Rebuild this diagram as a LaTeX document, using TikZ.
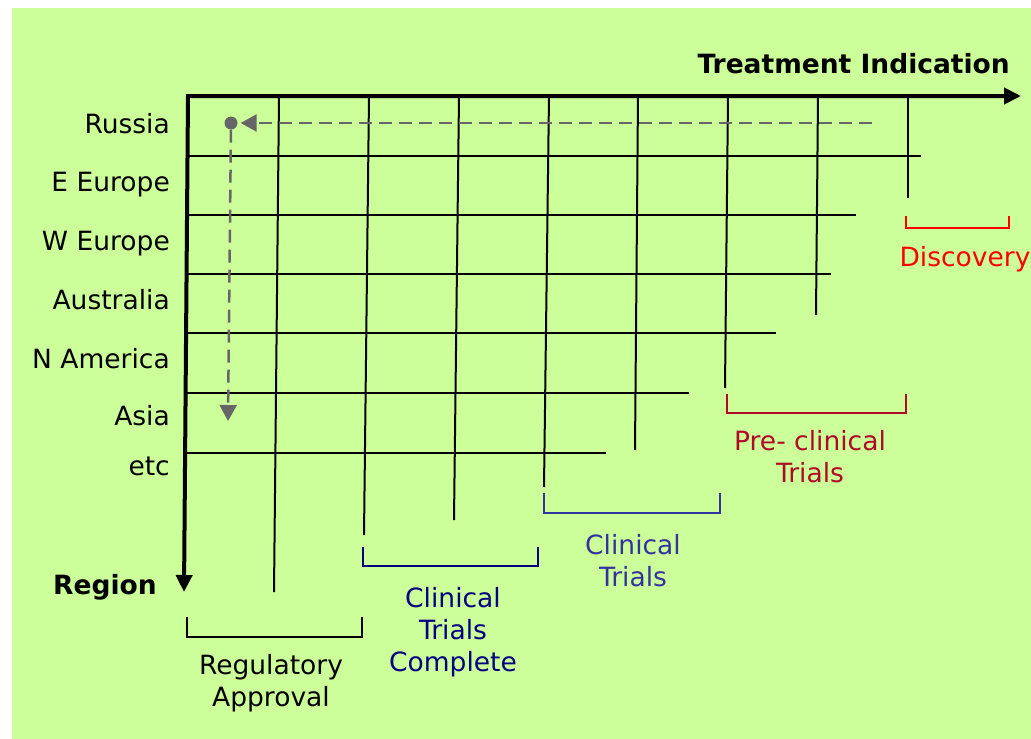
\documentclass[tikz,border=0pt]{standalone}
\usepackage{fontspec}
\setmainfont{DejaVu Sans}
\usepackage{tikz}
\usetikzlibrary{arrows.meta}
\definecolor{bggreen}{RGB}{204,255,153}
\definecolor{routegray}{RGB}{102,102,102}
\definecolor{discov}{RGB}{255,0,0}
\definecolor{preclin}{RGB}{175,10,40}
\definecolor{clin}{RGB}{51,51,160}
\definecolor{clindone}{RGB}{0,0,128}
\tikzset{>/.tip={Triangle[length=17pt,width=16pt]},
  axis/.style={line width=4pt},
  gridline/.style={line width=2pt},
  bracket/.style={line width=2pt},
  lbl/.style={font=\fontsize{26.5}{32}\selectfont, inner sep=0pt},
  phase/.style={lbl, align=center, anchor=north},
  route/.style={routegray, line width=2.5pt, dash pattern=on 13pt off 7pt,
    -{Triangle[length=16pt,width=17pt]}}}

\begin{document}
\begin{tikzpicture}[x=1pt,y=-1pt]
\useasboundingbox (0,0) rectangle (1031,739);
\fill[bggreen] (12,8) rectangle (1031,739);

\foreach \y/\xe in {156/921, 215/856, 274/831, 333/776, 393/689, 453/606}
{
  \draw[gridline] (187,\y) -- (\xe,\y);
}
\foreach \xt/\xb/\yb in {279/274/592, 369/364/535, 459/454/520, 549/544/487,
  638/635/450, 728/725/388, 818/816/315, 908/908/198}
{
  \draw[gridline] (\xt,96) -- (\xb,\yb);
}

\coordinate (origin) at (188,96);
\coordinate (xend) at (1021,96);
\coordinate (yend) at (184,592);
\draw[axis,<->] (yend) -- (origin) -- (xend);

\node[lbl, font=\fontsize{26.5}{32}\selectfont\bfseries, anchor=base east] (xlabel) at (1010,73) {Treatment Indication};
\node[lbl, font=\fontsize{26.5}{32}\selectfont\bfseries, anchor=base west] (ylabel) at (53,594) {Region};

\foreach \y/\name [count=\i] in {133/Russia, 191/E Europe, 250/W Europe,
  309/Australia, 368/N America, 425/Asia, 475/etc}
{
  \node[lbl, anchor=base east] (region\i) at (170,\y) {\name};
}

\node[circle, fill=routegray, inner sep=0pt, minimum size=13pt] (dot) at (231,123) {};
\coordinate (routestart) at (872,123);
\coordinate (routeend) at (228,421);
\draw[route, shorten >=3pt] (routestart) -- (dot);
\draw[route] (dot) -- (routeend);

\draw[bracket, discov] (906,216) -- (906,228) -- (1009,228) -- (1009,216);
\draw[bracket, preclin] (727,394) -- (727,413) -- (906,413) -- (906,394);
\draw[bracket, clin] (544,493) -- (544,513) -- (720,513) -- (720,493);
\draw[bracket, clindone] (363,547) -- (363,566) -- (538,566) -- (538,547);
\draw[bracket] (187,617) -- (187,637) -- (362,637) -- (362,617);

\node[phase, discov] (discovery) at (965,246) {Discovery};
\node[phase, preclin] (preclinical) at (810,430) {Pre- clinical\\Trials};
\node[phase, clin] (clinical) at (633,534) {Clinical\\Trials};
\node[phase, clindone] (complete) at (453,587) {Clinical\\Trials\\Complete};
\node[phase] (approval) at (271,654) {Regulatory\\Approval};
\end{tikzpicture}
\end{document}
